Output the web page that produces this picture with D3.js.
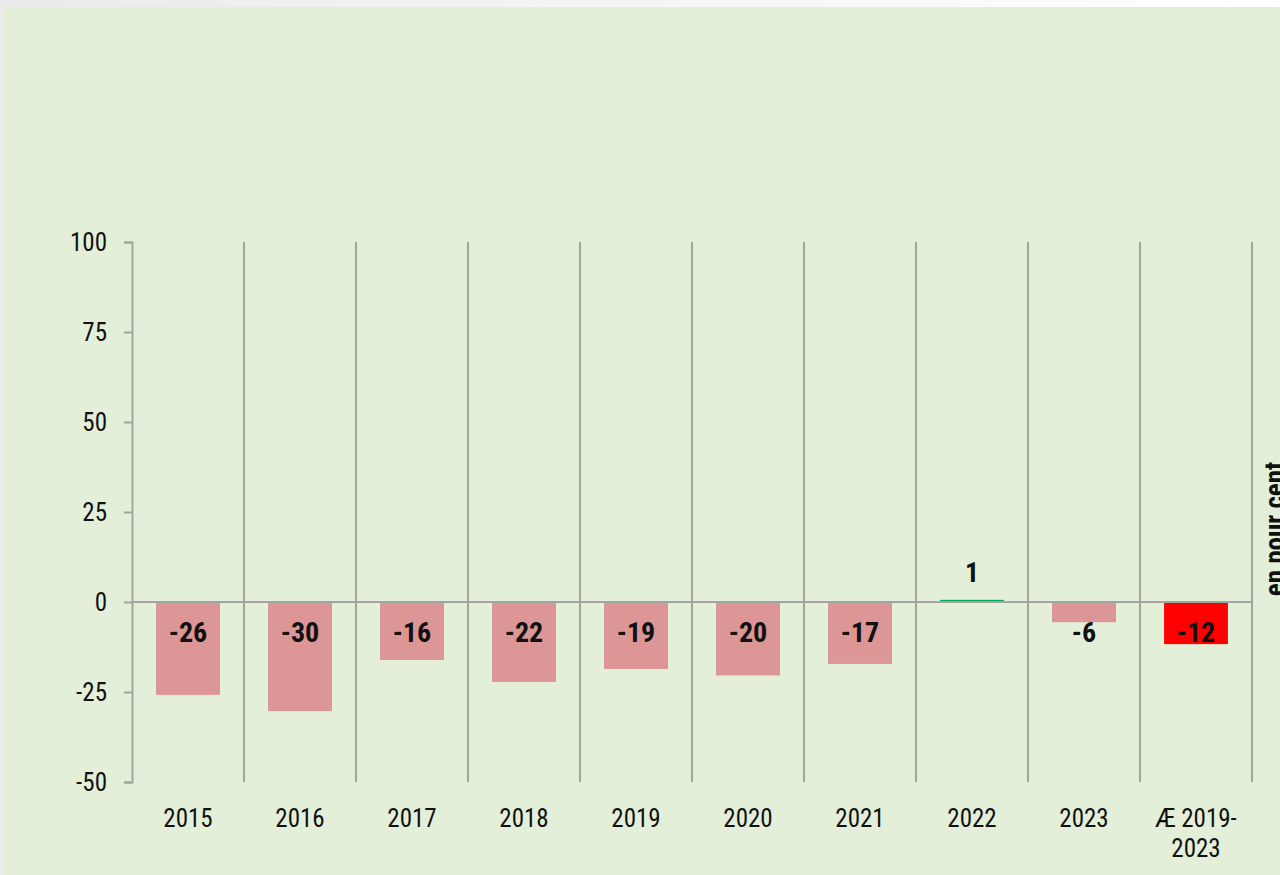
<!DOCTYPE html>
<html>
<head>
<meta charset="utf-8">
<script src="https://cdn.jsdelivr.net/npm/d3@7"></script>
<style>
  html, body { margin: 0; padding: 0; background: #fff; }
  svg { display: block; }
  text { font-family: "Roboto Condensed", Roboto, sans-serif; font-stretch: condensed; fill: #111; }
</style>
</head>
<body>
<svg id="chart" width="1280" height="875"></svg>
<script>
// Data
const categories = ["2015", "2016", "2017", "2018", "2019", "2020", "2021", "2022", "2023", "Æ 2019-2023"];
const values = [-25.8, -30.3, -16.1, -22.2, -18.6, -20.4, -17.2, 0.6, -5.6, -11.7];
const yTicks = [-50, -25, 0, 25, 50, 75, 100];
const axisTitle = "en pour cent";

const width = 1280, height = 875;
const margin = { top: 242, right: 28, bottom: 93, left: 132 };
const innerW = width - margin.left - margin.right;   // 1120
const innerH = height - margin.top - margin.bottom;  // 540

const svg = d3.select("#chart");

// page background: light gray strip on top, green panel
const grad = svg.append("defs").append("linearGradient")
  .attr("id", "topGrad").attr("x1", 0).attr("x2", 1);
grad.append("stop").attr("offset", 0).attr("stop-color", "#ebebeb");
grad.append("stop").attr("offset", 1).attr("stop-color", "#ffffff");
svg.append("rect").attr("width", width).attr("height", height).attr("fill", "url(#topGrad)");
svg.append("rect")
  .attr("x", 4).attr("y", 7)
  .attr("width", width - 4).attr("height", height - 7)
  .attr("fill", "#e3efd8");

const g = svg.append("g").attr("transform", `translate(${margin.left},${margin.top})`);

const x = d3.scaleBand()
  .domain(categories)
  .range([0, innerW])
  .paddingInner(0.43)
  .paddingOuter(0.215);

// gridline scale (category boundaries)
const xGrid = d3.scaleBand().domain(categories).range([0, innerW]).padding(0);

const y = d3.scaleLinear().domain([-50, 100]).range([innerH, 0]);

const gridColor = "#a3a5a3";

// vertical separators between categories
const gridX = categories.map(c => xGrid(c)).slice(1).concat([innerW]);
g.selectAll(".vgrid")
  .data(gridX)
  .join("line")
  .attr("class", "vgrid")
  .attr("x1", d => d).attr("x2", d => d)
  .attr("y1", 0).attr("y2", innerH)
  .attr("stroke", gridColor)
  .attr("stroke-width", 2);

// bars
const barColor = (v, i) => i === categories.length - 1 ? "#ff0000" : (v >= 0 ? "#00a651" : "#dc9696");
g.selectAll(".bar")
  .data(values)
  .join("rect")
  .attr("class", "bar")
  .attr("x", (d, i) => x(categories[i]))
  .attr("width", x.bandwidth())
  .attr("y", d => y(Math.max(0, d)))
  .attr("height", d => Math.abs(y(d) - y(0)))
  .attr("fill", barColor);

// zero line
g.append("line")
  .attr("x1", 0).attr("x2", innerW)
  .attr("y1", y(0)).attr("y2", y(0))
  .attr("stroke", gridColor)
  .attr("stroke-width", 2);

// y axis (plain hyphen for negatives, like the original)
const yAxis = d3.axisLeft(y)
  .tickValues(yTicks)
  .tickSize(8)
  .tickPadding(17)
  .tickFormat(d => String(d));

const ya = g.append("g").call(yAxis);
ya.selectAll(".domain, .tick line").attr("stroke", gridColor).attr("stroke-width", 2);
ya.selectAll("text")
  .attr("font-size", "25px")
  .attr("fill", "#111");

// category labels (wrap "Æ 2019-2023" on two lines)
const xl = g.append("g").attr("transform", `translate(0,${innerH})`);
xl.selectAll("text")
  .data(categories)
  .join("text")
  .attr("x", d => x(d) + x.bandwidth() / 2)
  .attr("y", 45)
  .attr("text-anchor", "middle")
  .attr("font-size", "25px")
  .each(function(d) {
    const parts = d.includes("-") ? [d.slice(0, d.indexOf("-") + 1), d.slice(d.indexOf("-") + 1)] : [d];
    const t = d3.select(this);
    parts.forEach((p, k) => {
      t.append("tspan")
        .attr("x", x(d) + x.bandwidth() / 2)
        .attr("dy", k === 0 ? 0 : 30)
        .text(p);
    });
  });

// value labels
g.selectAll(".vlabel")
  .data(values)
  .join("text")
  .attr("class", "vlabel")
  .attr("x", (d, i) => x(categories[i]) + x.bandwidth() / 2)
  .attr("y", d => d >= 0 ? y(0) - 20 : y(0) + 40)
  .attr("text-anchor", "middle")
  .attr("font-size", "28px")
  .attr("font-weight", "bold")
  .text(d => String(Math.round(d)));

// right axis title, clipped at the page edge as in the original
svg.append("text")
  .attr("transform", `translate(1284,529) rotate(-90)`)
  .attr("text-anchor", "middle")
  .attr("font-size", "27px")
  .attr("font-weight", "bold")
  .text(axisTitle);
</script>
</body>
</html>
